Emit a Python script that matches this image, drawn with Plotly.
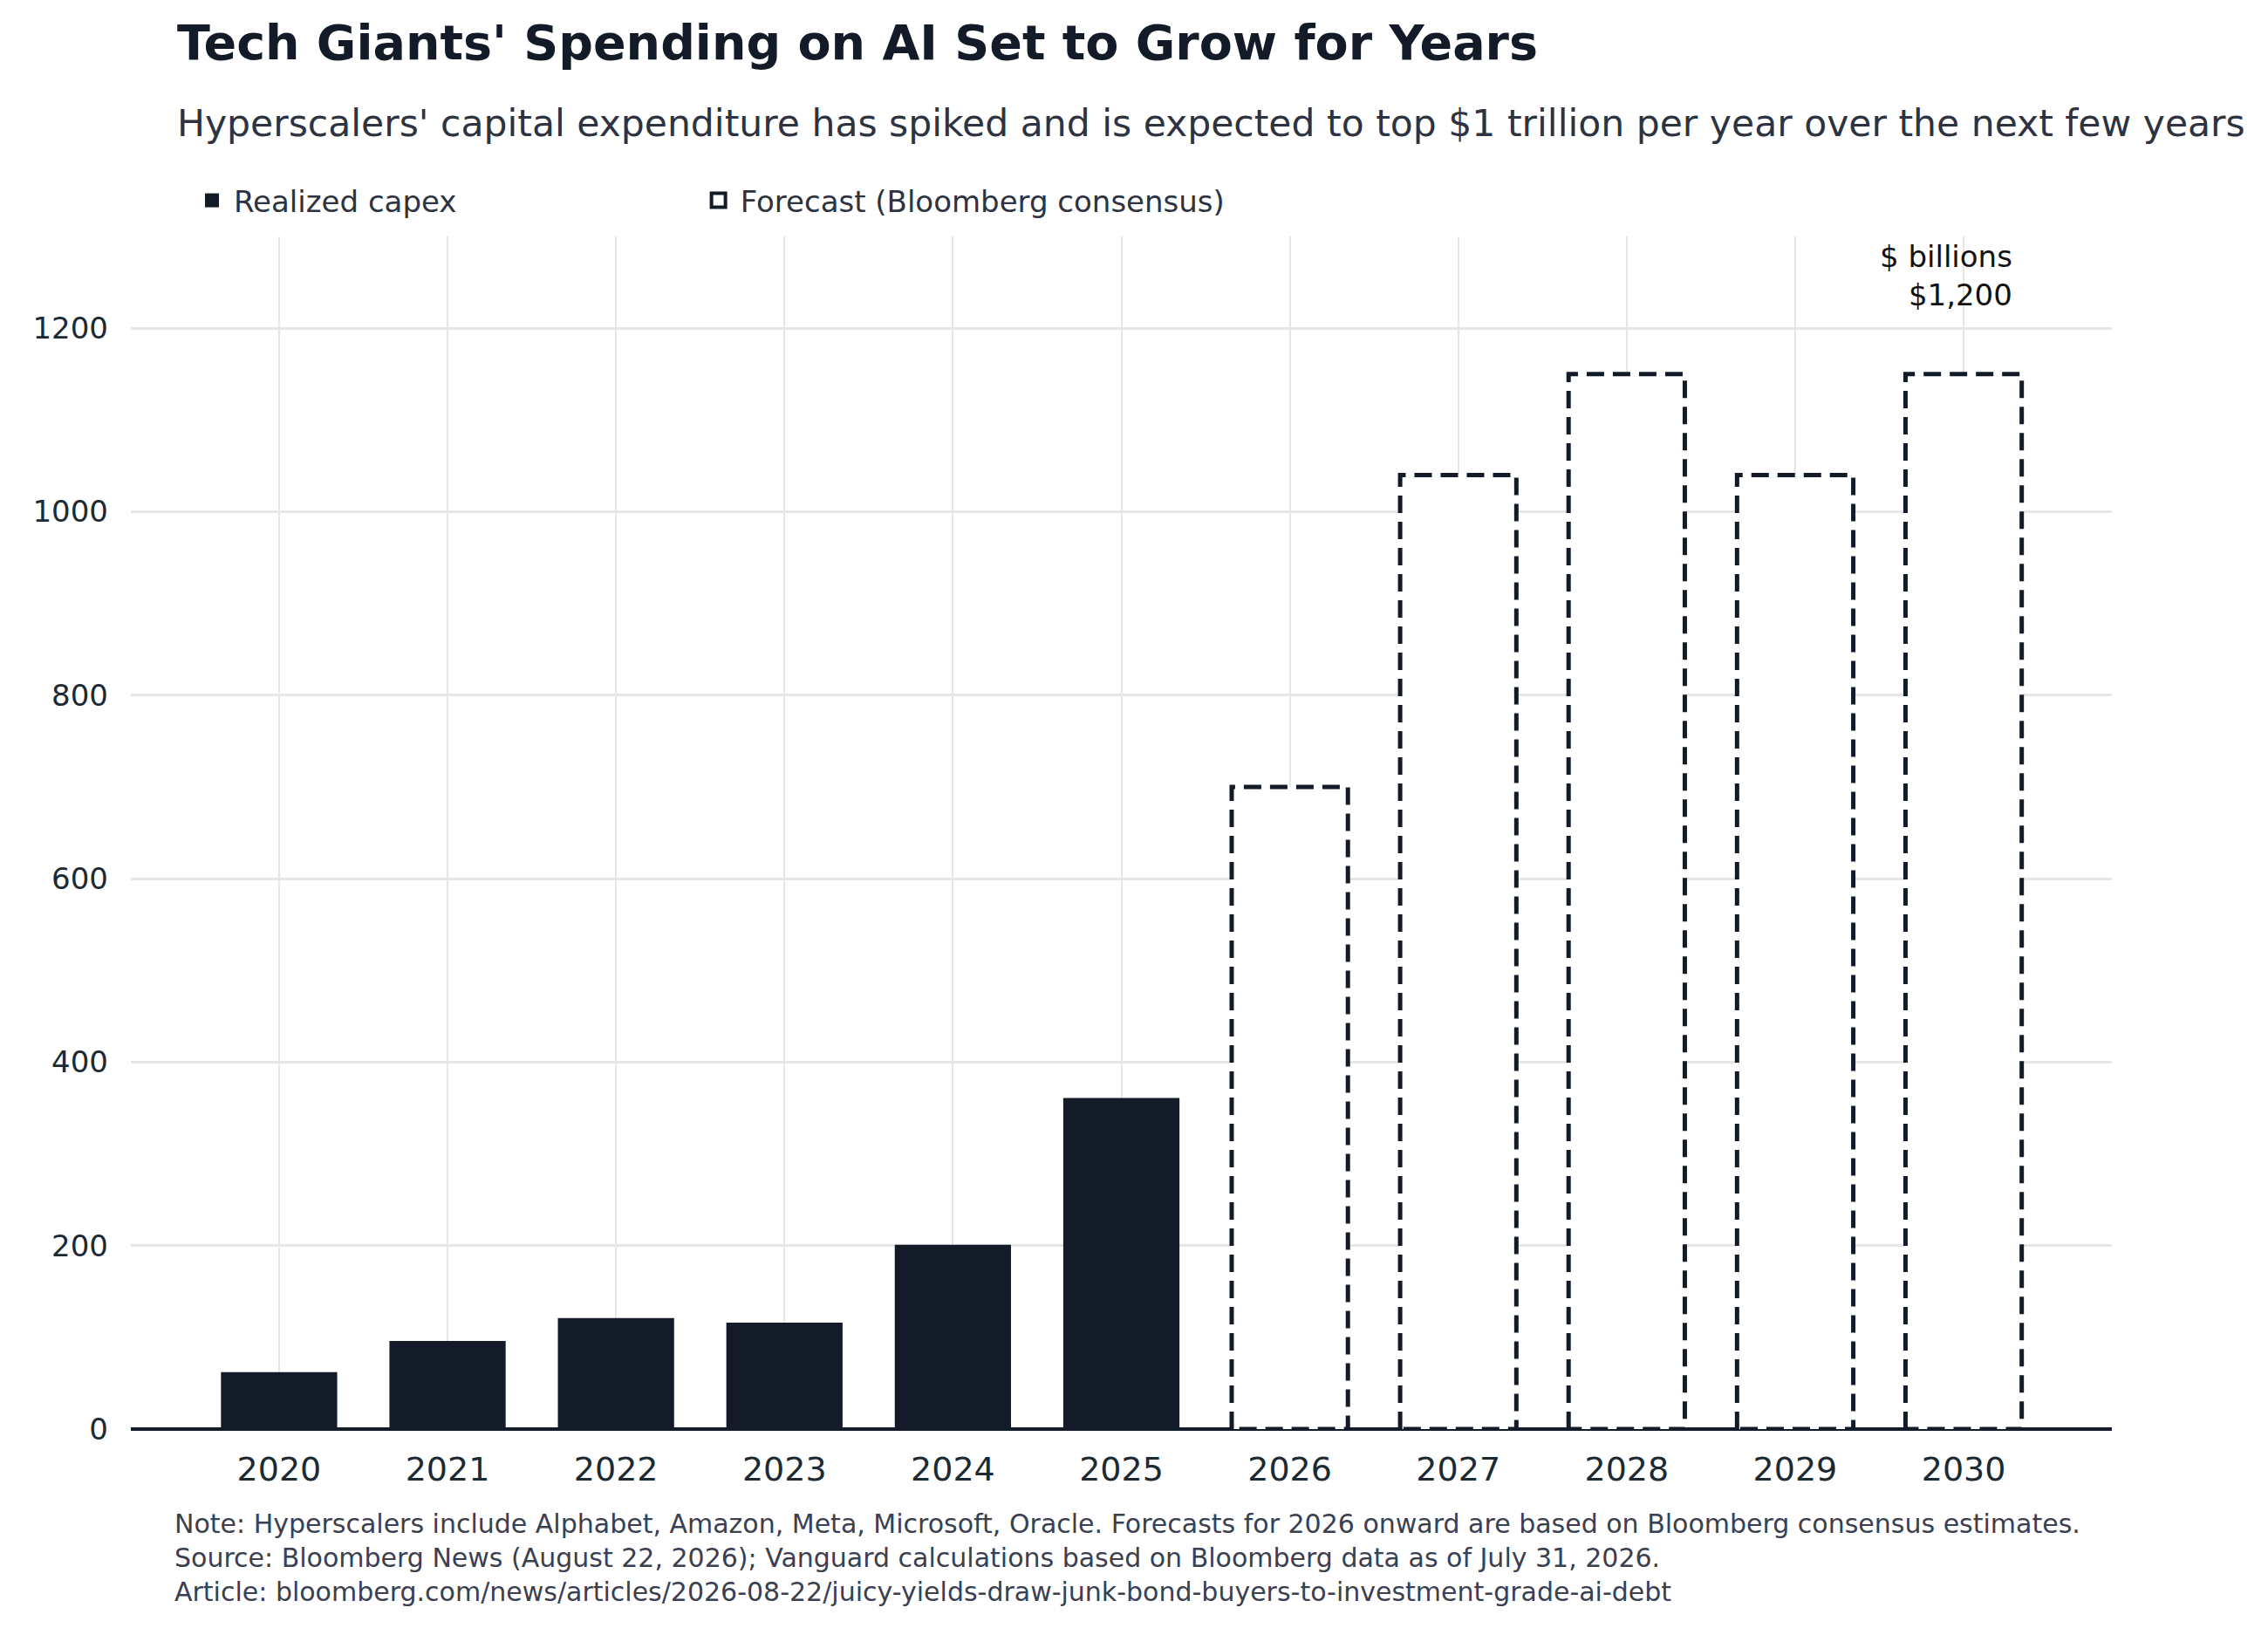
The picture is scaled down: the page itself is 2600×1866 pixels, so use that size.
import plotly.graph_objects as go

years = [2020, 2021, 2022, 2023, 2024, 2025, 2026, 2027, 2028, 2029, 2030]
realized_years = [2020, 2021, 2022, 2023, 2024, 2025]
realized_capex = [62, 96, 121, 116, 201, 361]
forecast_years = [2026, 2027, 2028, 2029, 2030]
forecast_capex = [700, 1040, 1150, 1040, 1150]
y_ticks = [0, 200, 400, 600, 800, 1000, 1200]

dark = '#131a28'
half = 0.345  # half bar width in years

W, H = 2600, 1866
ML, MR, MT, MB = 142, 187, 241, 236


def px_x(px):
    return (px - ML) / (W - ML - MR)


def px_y(py):
    return (H - MB - py) / (H - MT - MB)


fig = go.Figure()

fig.add_trace(go.Bar(
    x=realized_years, y=realized_capex, width=2 * half,
    marker=dict(color=dark, line=dict(width=0)),
    showlegend=False
))

fig.add_trace(go.Bar(
    x=forecast_years, y=forecast_capex, width=2 * half,
    marker=dict(color='white', line=dict(width=0)),
    showlegend=False, hoverinfo='skip'
))

# dashed outlines for the forecast bars
xs, ys = [], []
for yr, v in zip(forecast_years, forecast_capex):
    xs += [yr - half, yr - half, yr + half, yr + half, yr - half, None]
    ys += [0, v, v, 0, 0, None]
fig.add_trace(go.Scatter(
    x=xs, y=ys, mode='lines',
    line=dict(color=dark, width=5, dash='20px,10px'),
    showlegend=False, hoverinfo='skip'
))

# legend entries
fig.add_trace(go.Scatter(
    x=[None], y=[None], mode='markers',
    marker=dict(symbol='square', size=36, color=dark, line=dict(color=dark, width=0)),
    name='Realized capex' + '\u00a0' * 25
))
fig.add_trace(go.Scatter(
    x=[None], y=[None], mode='markers',
    marker=dict(symbol='square', size=32, color='white', line=dict(color=dark, width=4)),
    name='Forecast (Bloomberg consensus)'
))

fig.add_annotation(
    x=2030.3, y=1215, xref='x', yref='y', xanchor='right', yanchor='bottom',
    text='$ billions<br>$1,200', showarrow=False, align='right',
    font=dict(size=34, color='#111111')
)

fig.add_annotation(
    x=px_x(193), y=px_y(15), xref='paper', yref='paper', xanchor='left', yanchor='middle',
    text="<b>Tech Giants' Spending on AI Set to Grow for Years</b>", showarrow=False,
    font=dict(size=55.5, color=dark)
)
fig.add_annotation(
    x=px_x(193), y=px_y(109), xref='paper', yref='paper', xanchor='left', yanchor='middle',
    text="Hyperscalers' capital expenditure has spiked and is expected to top $1 trillion per year over the next few years",
    showarrow=False, font=dict(size=42.5, color='#2d3340')
)
fig.add_annotation(
    x=px_x(190), y=px_y(1720), xref='paper', yref='paper', xanchor='left', yanchor='top',
    text=("Note: Hyperscalers include Alphabet, Amazon, Meta, Microsoft, Oracle. Forecasts for 2026 onward are based on Bloomberg consensus estimates.<br>"
          "Source: Bloomberg News (August 22, 2026); Vanguard calculations based on Bloomberg data as of July 31, 2026.<br>"
          "Article: bloomberg.com/news/articles/2026-08-22/juicy-yields-draw-junk-bond-buyers-to-investment-grade-ai-debt"),
    showarrow=False, align='left', font=dict(size=30, color='#3a4050')
)

fig.update_layout(
    width=W, height=H,
    paper_bgcolor='white', plot_bgcolor='white',
    font=dict(family='DejaVu Sans', color='#1b2a33'),
    margin=dict(l=ML, r=MR, t=MT, b=MB),
    barmode='overlay',
    showlegend=True,
    legend=dict(orientation='h', x=210 / W, y=1 - 222 / H, xref='container', yref='container',
                xanchor='left', yanchor='middle', font=dict(size=34, color='#2d3340'),
                itemwidth=40),
    xaxis=dict(range=[2020 - 0.88, 2030 + 0.88], tickvals=years, ticktext=[str(y) for y in years],
               showgrid=True, gridcolor='#e6e6e6', gridwidth=2, zeroline=False,
               showline=False, tickfont=dict(size=38), ticks='', ticklabelstandoff=20),
    yaxis=dict(range=[0, 1300], tickvals=y_ticks, showgrid=True, gridcolor='#e6e6e6', gridwidth=3,
               zeroline=True, zerolinecolor=dark, zerolinewidth=4, showline=False,
               tickfont=dict(size=34), ticks='', ticklabelstandoff=25),
)

fig.write_html('out.html')
